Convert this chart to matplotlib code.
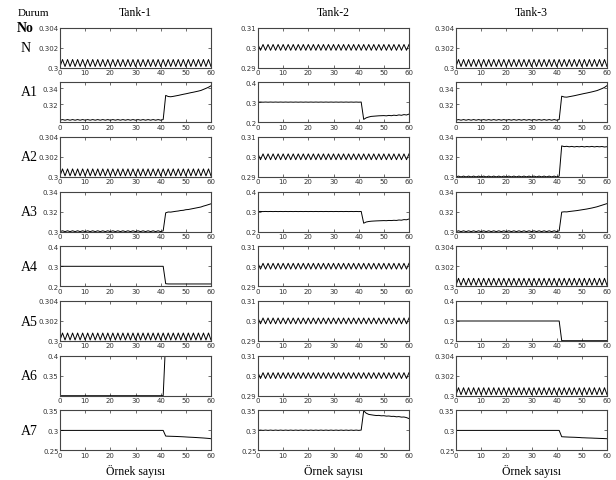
import matplotlib.pyplot as plt
import matplotlib as mpl

mpl.rcParams["font.family"] = "DejaVu Sans"

# sample index 0..60
samples = list(range(61))

tanks = ["Tank-1", "Tank-2", "Tank-3"]
rows = ["N", "A1", "A2", "A3", "A4", "A5", "A6", "A7"]

# steady oscillation (Tank-1 / Tank-3 normal)
osc_small = [0.3001, 0.3008, 0.3001, 0.3008, 0.3001, 0.3008, 0.3001, 0.3008, 0.3001, 0.3008,
             0.3001, 0.3008, 0.3001, 0.3008, 0.3001, 0.3008, 0.3001, 0.3008, 0.3001, 0.3008,
             0.3001, 0.3008, 0.3001, 0.3008, 0.3001, 0.3008, 0.3001, 0.3008, 0.3001, 0.3008,
             0.3001, 0.3008, 0.3001, 0.3008, 0.3001, 0.3008, 0.3001, 0.3008, 0.3001, 0.3008,
             0.3001, 0.3008, 0.3001, 0.3008, 0.3001, 0.3008, 0.3001, 0.3008, 0.3001, 0.3008,
             0.3001, 0.3008, 0.3001, 0.3008, 0.3001, 0.3008, 0.3001, 0.3008, 0.3001, 0.3008,
             0.3001]
# steady oscillation (Tank-2 normal)
osc_mid = [0.3015, 0.2986, 0.3015, 0.2986, 0.3015, 0.2986, 0.3015, 0.2986, 0.3015, 0.2986,
           0.3015, 0.2986, 0.3015, 0.2986, 0.3015, 0.2986, 0.3015, 0.2986, 0.3015, 0.2986,
           0.3015, 0.2986, 0.3015, 0.2986, 0.3015, 0.2986, 0.3015, 0.2986, 0.3015, 0.2986,
           0.3015, 0.2986, 0.3015, 0.2986, 0.3015, 0.2986, 0.3015, 0.2986, 0.3015, 0.2986,
           0.3015, 0.2986, 0.3015, 0.2986, 0.3015, 0.2986, 0.3015, 0.2986, 0.3015, 0.2986,
           0.3015, 0.2986, 0.3015, 0.2986, 0.3015, 0.2986, 0.3015, 0.2986, 0.3015, 0.2986,
           0.3015]

# samples 0..41 before the fault
pre_dash = [0.3000, 0.3008, 0.3000, 0.3008, 0.3000, 0.3008, 0.3000, 0.3008, 0.3000, 0.3008,
            0.3000, 0.3008, 0.3000, 0.3008, 0.3000, 0.3008, 0.3000, 0.3008, 0.3000, 0.3008,
            0.3000, 0.3008, 0.3000, 0.3008, 0.3000, 0.3008, 0.3000, 0.3008, 0.3000, 0.3008,
            0.3000, 0.3008, 0.3000, 0.3008, 0.3000, 0.3008, 0.3000, 0.3008, 0.3000, 0.3008,
            0.3000, 0.3008]
pre_flat = [0.3, 0.3, 0.3, 0.3, 0.3, 0.3, 0.3, 0.3, 0.3, 0.3,
            0.3, 0.3, 0.3, 0.3, 0.3, 0.3, 0.3, 0.3, 0.3, 0.3,
            0.3, 0.3, 0.3, 0.3, 0.3, 0.3, 0.3, 0.3, 0.3, 0.3,
            0.3, 0.3, 0.3, 0.3, 0.3, 0.3, 0.3, 0.3, 0.3, 0.3,
            0.3, 0.3]

# samples 42..60 after the fault
t1_a1_post = [0.3310, 0.3296, 0.3293, 0.3298, 0.3304, 0.3310, 0.3317, 0.3324, 0.3330, 0.3337,
              0.3344, 0.3350, 0.3357, 0.3364, 0.3372, 0.3385, 0.3398, 0.3412, 0.3430]
t1_a3_post = [0.3188, 0.3196, 0.3195, 0.3199, 0.3203, 0.3206, 0.3211, 0.3213, 0.3219, 0.3221,
              0.3226, 0.3231, 0.3236, 0.3241, 0.3246, 0.3255, 0.3262, 0.3270, 0.3278]
t1_a4_post = [0.2130, 0.2118, 0.2117, 0.2117, 0.2117, 0.2117, 0.2117, 0.2117, 0.2117, 0.2117,
              0.2117, 0.2117, 0.2117, 0.2117, 0.2117, 0.2117, 0.2117, 0.2117, 0.2117]
t1_a6_post = [0.44, 0.46, 0.47, 0.48, 0.49, 0.50, 0.50, 0.50, 0.50, 0.50,
              0.50, 0.50, 0.50, 0.50, 0.50, 0.50, 0.50, 0.50, 0.50]
t1_a7_post = [0.2858, 0.2855, 0.2853, 0.2851, 0.2849, 0.2846, 0.2843, 0.2840, 0.2836, 0.2832,
              0.2829, 0.2826, 0.2822, 0.2818, 0.2814, 0.2810, 0.2805, 0.2800, 0.2792]

t2_a1_post = [0.2140, 0.2220, 0.2260, 0.2290, 0.2300, 0.2310, 0.2320, 0.2325, 0.2330, 0.2318,
              0.2340, 0.2325, 0.2350, 0.2335, 0.2365, 0.2345, 0.2380, 0.2360, 0.2405]
t2_a3_post = [0.2420, 0.2480, 0.2505, 0.2520, 0.2528, 0.2535, 0.2540, 0.2545, 0.2550, 0.2545,
              0.2558, 0.2552, 0.2565, 0.2558, 0.2580, 0.2570, 0.2600, 0.2590, 0.2630]
t2_a7_post = [0.3490, 0.3430, 0.3400, 0.3390, 0.3380, 0.3372, 0.3375, 0.3365, 0.3368, 0.3357,
              0.3360, 0.3350, 0.3352, 0.3340, 0.3345, 0.3332, 0.3335, 0.3320, 0.3295]

t3_a1_post = [0.3300, 0.3290, 0.3288, 0.3294, 0.3300, 0.3306, 0.3313, 0.3320, 0.3327, 0.3334,
              0.3340, 0.3347, 0.3354, 0.3362, 0.3370, 0.3382, 0.3395, 0.3410, 0.3432]
t3_a2_post = [0.3310, 0.3303, 0.3306, 0.3301, 0.3305, 0.3300, 0.3304, 0.3301, 0.3305, 0.3300,
              0.3304, 0.3301, 0.3305, 0.3300, 0.3304, 0.3301, 0.3304, 0.3299, 0.3302]
t3_a3_post = [0.3195, 0.3198, 0.3197, 0.3201, 0.3204, 0.3207, 0.3210, 0.3214, 0.3218, 0.3222,
              0.3226, 0.3231, 0.3236, 0.3242, 0.3248, 0.3256, 0.3264, 0.3272, 0.3280]
t3_a5_post = [0.2020, 0.2015, 0.2015, 0.2015, 0.2015, 0.2015, 0.2015, 0.2015, 0.2015, 0.2015,
              0.2015, 0.2015, 0.2015, 0.2015, 0.2015, 0.2015, 0.2015, 0.2015, 0.2015]
t3_a7_post = [0.2842, 0.2838, 0.2835, 0.2832, 0.2830, 0.2828, 0.2825, 0.2822, 0.2817, 0.2815,
              0.2812, 0.2810, 0.2808, 0.2805, 0.2803, 0.2800, 0.2798, 0.2795, 0.2792]

# y limits / ticks used by the panels
lim_small = ((0.3, 0.304), [0.3, 0.302, 0.304])
lim_mid = ((0.29, 0.31), [0.29, 0.3, 0.31])
lim_rise = ((0.2975, 0.3475), [0.32, 0.34])
lim_34 = ((0.3, 0.34), [0.3, 0.32, 0.34])
lim_24 = ((0.2, 0.4), [0.2, 0.3, 0.4])
lim_34b = ((0.3, 0.4), [0.35, 0.4])
lim_235 = ((0.25, 0.35), [0.25, 0.3, 0.35])

panels = [
    # Tank-1
    [(osc_small, lim_small),
     (pre_dash + t1_a1_post, lim_rise),
     (osc_small, lim_small),
     (pre_dash + t1_a3_post, lim_34),
     (pre_flat + t1_a4_post, lim_24),
     (osc_small, lim_small),
     (pre_flat + t1_a6_post, lim_34b),
     (pre_flat + t1_a7_post, lim_235)],
    # Tank-2
    [(osc_mid, lim_mid),
     (pre_dash + t2_a1_post, lim_24),
     (osc_mid, lim_mid),
     (pre_dash + t2_a3_post, lim_24),
     (osc_mid, lim_mid),
     (osc_mid, lim_mid),
     (osc_mid, lim_mid),
     (pre_dash + t2_a7_post, lim_235)],
    # Tank-3
    [(osc_small, lim_small),
     (pre_dash + t3_a1_post, lim_rise),
     (pre_dash + t3_a2_post, lim_34),
     (pre_dash + t3_a3_post, lim_34),
     (osc_small, lim_small),
     (pre_flat + t3_a5_post, lim_24),
     (osc_small, lim_small),
     (pre_flat + t3_a7_post, lim_235)],
]

W, H = 616, 481
fig = plt.figure(figsize=(W / 100, H / 100), dpi=100)

col_left = [60, 258, 456]
ax_w = 151
ax_h = 40
row_top0 = 28.5
row_step = 54.7

serif = "Liberation Serif"

for c in range(3):
    for r in range(8):
        top = row_top0 + r * row_step
        ax = fig.add_axes([col_left[c] / W, 1 - (top + ax_h) / H, ax_w / W, ax_h / H])
        yvals, (ylim, yticks) = panels[c][r]
        ax.plot(samples, yvals, color="black", lw=0.7)
        ax.set_xlim(0, 60)
        ax.set_ylim(*ylim)
        ax.set_xticks(range(0, 61, 10))
        ax.set_yticks(yticks)
        ax.set_yticklabels(["%g" % v for v in yticks])
        ax.tick_params(direction="in", length=2, width=0.5, labelsize=5, pad=1,
                       top=True, right=True, colors="#333333")
        for sp in ax.spines.values():
            sp.set_color("#444444")
            sp.set_linewidth(0.8)

# column titles
for c in range(3):
    cx = (col_left[c] + ax_w / 2) / W
    fig.text(cx, 1 - 12.5 / H, tanks[c], ha="center", va="center",
             family=serif, fontsize=8.5)
    fig.text(cx, 1 - 471 / H, "Örnek sayısı", ha="center", va="center",
             family=serif, fontsize=8.5)

# row labels
fig.text(18 / W, 1 - 13 / H, "Durum", ha="left", va="center", family=serif, fontsize=8)
fig.text(17 / W, 1 - 28 / H, "No", ha="left", va="center", family=serif,
         fontsize=10, weight="bold")
label_y = [49, 93]
for r in range(8):
    if r < len(label_y):
        cy = label_y[r]
    else:
        cy = row_top0 + r * row_step + ax_h / 2
    lx = 21 if r == 0 else 21
    fig.text(lx / W, 1 - cy / H, rows[r], ha="left", va="center",
             family=serif, fontsize=10)

fig.savefig("out.png", dpi=100)
